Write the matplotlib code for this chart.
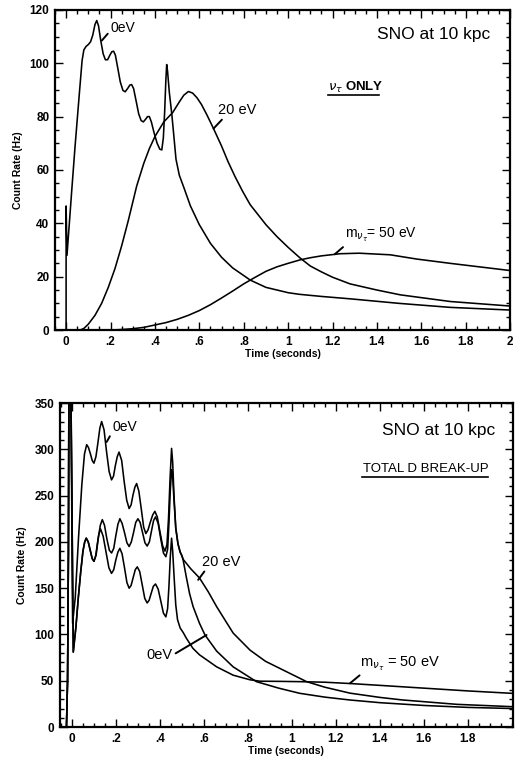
import matplotlib
matplotlib.use("Agg")
import matplotlib.pyplot as plt
from matplotlib.ticker import MultipleLocator, FixedLocator

plt.rcParams['font.family'] = ['Liberation Sans', 'DejaVu Sans']

## top panel: nu_tau only
t_top_0 = [0.0, 0.0, 0.004, 0.026, 0.0405, 0.06, 0.072, 0.08, 0.09, 0.1, 0.11, 0.12, 0.13, 0.138,
           0.146, 0.156, 0.167, 0.177, 0.187, 0.197, 0.206, 0.214, 0.222, 0.232, 0.244, 0.256,
           0.266, 0.277, 0.287, 0.295, 0.304, 0.315, 0.327, 0.338, 0.348, 0.358, 0.367, 0.375,
           0.384, 0.396, 0.41, 0.422, 0.431, 0.438, 0.444, 0.449, 0.453, 0.457, 0.465, 0.476,
           0.485, 0.495, 0.51, 0.53, 0.56, 0.6, 0.65, 0.7, 0.75, 0.83, 0.9, 1.0, 1.05, 1.15,
           1.28, 1.5, 1.73, 2.0]
v_top_0 = [0, 46.5, 28, 53, 69, 89, 101, 105, 106.3, 107, 108, 110.5, 114.5, 116,
           114, 108.5, 103.5, 101.3, 101.3, 103, 104.3, 104.5, 103, 98.5, 93, 89.8,
           89.3, 90.5, 91.8, 92, 90.5, 86, 81, 78.5, 78, 79, 80, 80,
           78, 74, 70, 67.8, 67.5, 72, 82, 93, 99.5, 97, 89, 81,
           73, 64, 58, 53.5, 46.5, 39.5, 32.5, 27.3, 23.3, 18.7, 16, 14, 13.4, 12.6,
           11.7, 10, 8.5, 7.5]

t_top_20 = [0.063, 0.08, 0.1, 0.13, 0.16, 0.19, 0.22, 0.25, 0.28, 0.318, 0.35, 0.375, 0.4, 0.44,
            0.48, 0.51, 0.53, 0.551, 0.57, 0.59, 0.61, 0.635, 0.664, 0.7, 0.73, 0.761, 0.795,
            0.829, 0.9, 0.95, 1.0, 1.054, 1.1, 1.15, 1.2, 1.279, 1.4, 1.505, 1.73, 2.0]
v_top_20 = [0, 0.6, 2.2, 5.5, 10, 16, 23, 31.5, 41, 54, 62.5, 68, 72.5, 78,
            81.5, 85.5, 88, 89.4, 88.8, 87, 84.5, 80.5, 75.5, 69, 63, 57.5, 52,
            47, 39.5, 35, 31, 27, 24, 21.8, 19.8, 17.3, 15, 13.2, 10.7, 9]

t_top_50 = [0.2, 0.25, 0.3, 0.35, 0.4, 0.45, 0.5, 0.55, 0.6, 0.65, 0.7, 0.75, 0.8, 0.85, 0.9,
            0.95, 1.0, 1.054, 1.1, 1.15, 1.234, 1.32, 1.46, 1.58, 1.73, 1.85, 2.0]
v_top_50 = [0, 0.2, 0.5, 1.0, 1.9, 2.8, 4, 5.5, 7.3, 9.5, 12, 14.6, 17.3, 19.7, 22,
            23.7, 25, 26.3, 27.1, 27.8, 28.6, 28.8, 28.2, 26.6, 25, 23.8, 22.3]

## bottom panel: total D break-up
t_bot_0 = [-0.025, -0.02, -0.016, -0.0135, -0.006, 0.003, 0.015, 0.03, 0.045, 0.057, 0.067,
           0.075, 0.084, 0.092, 0.1, 0.109, 0.118, 0.127, 0.135, 0.146, 0.157, 0.169, 0.18,
           0.189, 0.197, 0.206, 0.214, 0.226, 0.237, 0.249, 0.26, 0.269, 0.277, 0.286, 0.294,
           0.304, 0.315, 0.326, 0.336, 0.346, 0.356, 0.367, 0.377, 0.388, 0.4, 0.412, 0.423,
           0.432, 0.439, 0.446, 0.453, 0.458, 0.464, 0.472, 0.482, 0.492, 0.5, 0.506, 0.52,
           0.535, 0.551, 0.58, 0.605, 0.658, 0.733, 0.839, 0.94, 1.036, 1.15, 1.264, 1.4,
           1.6, 1.8, 2.0]
v_bot_0 = [0, 50, 190, 400, 400, 112, 140, 205, 262, 295, 305,
           302, 295, 288, 285, 292, 307, 323, 330, 321, 298, 276, 267,
           271, 282, 292, 297, 288, 266, 245, 236, 240, 250, 259, 263,
           255, 236, 216, 209, 213, 221, 229, 233, 227, 211, 196, 190,
           197, 225, 268, 301, 286, 250, 215, 198, 189, 185, 180, 162,
           144, 130, 112, 99.4, 82, 65, 49, 42, 36.4, 32.3, 29.2, 26.3,
           23.3, 21.2, 20]

t_bot_20 = [-0.025, -0.02, -0.016, -0.0135, -0.006, 0.006, 0.018, 0.029, 0.04, 0.05, 0.058,
            0.065, 0.074, 0.083, 0.092, 0.1, 0.11, 0.119, 0.129, 0.138, 0.148, 0.159, 0.17,
            0.18, 0.19, 0.199, 0.209, 0.218, 0.228, 0.239, 0.25, 0.26, 0.27, 0.28, 0.29, 0.3,
            0.31, 0.321, 0.332, 0.342, 0.352, 0.361, 0.371, 0.38, 0.392, 0.404, 0.416, 0.427,
            0.435, 0.441, 0.447, 0.453, 0.458, 0.464, 0.472, 0.482, 0.492, 0.5, 0.506, 0.54,
            0.58, 0.62, 0.658, 0.7, 0.733, 0.81, 0.88, 0.96, 1.067, 1.15, 1.264, 1.4, 1.5,
            1.75, 2.0]
v_bot_20 = [0, 50, 190, 400, 400, 81, 108, 140, 168, 190, 200,
            204, 200, 191, 182, 179, 186, 203, 218, 224, 218, 203, 191,
            188, 193, 206, 219, 225, 220, 210, 199, 195, 200, 210, 221, 225,
            221, 210, 199, 195.5, 200, 211, 223, 227, 220, 203, 188, 184,
            192, 220, 255, 278, 270, 245, 215, 198, 189, 185, 181, 171,
            161, 146, 130, 114, 101.5, 83, 71, 61.6, 49, 43, 36.6, 32, 29.3,
            24.5, 22]

t_bot_50 = [-0.025, -0.02, -0.016, -0.0135, -0.006, 0.006, 0.018, 0.029, 0.04, 0.05, 0.058,
            0.065, 0.074, 0.083, 0.092, 0.1, 0.108, 0.115, 0.122, 0.13, 0.142, 0.155, 0.168,
            0.18, 0.19, 0.199, 0.209, 0.218, 0.228, 0.239, 0.25, 0.26, 0.269, 0.279, 0.288,
            0.297, 0.308, 0.32, 0.331, 0.342, 0.351, 0.361, 0.37, 0.38, 0.392, 0.404, 0.416,
            0.427, 0.435, 0.441, 0.447, 0.453, 0.458, 0.465, 0.472, 0.48, 0.492, 0.506, 0.52,
            0.55, 0.58, 0.658, 0.733, 0.81, 0.855, 0.95, 1.036, 1.15, 1.264, 1.4, 1.6, 1.8, 2.0]
v_bot_50 = [0, 50, 190, 400, 400, 81, 108, 140, 168, 190, 200,
            204, 200, 191, 182, 179, 185, 197, 208, 214, 206, 189, 172,
            166, 170, 180, 189, 193, 187, 172, 156, 150, 153, 162, 170,
            173, 168, 153, 139, 134, 137, 145, 152, 154.5, 149, 136, 123,
            119, 128, 152, 183, 204, 190, 160, 132, 116, 107, 102, 96,
            85, 78, 65, 56, 51, 49.5, 49.3, 49, 48.4, 47, 45, 42, 39, 36.4]

top_xticks = [0, 0.2, 0.4, 0.6, 0.8, 1.0, 1.2, 1.4, 1.6, 1.8, 2.0]
top_xlabels = ['0', '.2', '.4', '.6', '.8', '1', '1.2', '1.4', '1.6', '1.8', '2']
bot_xticks = [0, 0.2, 0.4, 0.6, 0.8, 1.0, 1.2, 1.4, 1.6, 1.8]
bot_xlabels = ['0', '.2', '.4', '.6', '.8', '1', '1.2', '1.4', '1.6', '1.8']


def style(ax, xticks, xlabels, ymajor, yminor):
    ax.xaxis.set_major_locator(FixedLocator(xticks))
    ax.set_xticklabels(xlabels)
    ax.xaxis.set_minor_locator(MultipleLocator(0.05))
    ax.yaxis.set_major_locator(MultipleLocator(ymajor))
    ax.yaxis.set_minor_locator(MultipleLocator(yminor))
    ax.tick_params(which='both', direction='in', top=True, right=True, width=1.0,
                   labelsize=8.5, pad=4)
    ax.tick_params(which='major', length=5.5)
    ax.tick_params(which='minor', length=3)
    for lab in ax.get_xticklabels() + ax.get_yticklabels():
        lab.set_fontweight('bold')
    for s in ax.spines.values():
        s.set_linewidth(1.6)
    ax.set_xlabel('Time (seconds)', fontsize=7.5, fontweight='bold', labelpad=1)
    ax.set_ylabel('Count Rate (Hz)', fontsize=7.5, fontweight='bold', labelpad=5)


fig = plt.figure(figsize=(5.16, 7.57), dpi=100)

## ---- top ----
ax1 = fig.add_axes([0.1066, 0.564, 0.882, 0.423])
lw = 1.15
ax1.plot(t_top_0, v_top_0, color='black', lw=lw)
ax1.plot(t_top_20, v_top_20, color='black', lw=lw)
ax1.plot(t_top_50, v_top_50, color='black', lw=lw)
ax1.set_xlim(-0.05, 2.0)
ax1.set_ylim(0, 120)
style(ax1, top_xticks, top_xlabels, 20, 5)

arrow = dict(arrowstyle='-', lw=1.4, color='black', shrinkA=0, shrinkB=0)
ax1.annotate('0eV', xy=(0.161, 108.5), xytext=(0.2, 113.3), fontsize=10,
             ha='left', va='center', arrowprops=dict(arrow, relpos=(0, 0.3)))
ax1.annotate('20 eV', xy=(0.664, 75.5), xytext=(0.685, 82.5), fontsize=10.5,
             ha='left', va='center', arrowprops=dict(arrow, relpos=(0.2, 0.1)))
ax1.annotate(r'm$_{\nu_\tau}$= 50 eV', xy=(1.21, 28.4), xytext=(1.255, 35.5), fontsize=10,
             ha='left', va='center', arrowprops=dict(arrow, relpos=(0.05, 0.1)))
ax1.text(1.4, 110.6, 'SNO at 10 kpc', fontsize=12.5, ha='left', va='center')
ax1.text(1.18, 90.8, r'$\nu_\tau$ ONLY', fontsize=9.5, fontweight='bold', ha='left', va='center')
ax1.plot([0.6, 0.712], [0.733, 0.733], transform=ax1.transAxes, color='black', lw=1.2)

## ---- bottom ----
ax2 = fig.add_axes([0.116, 0.0396, 0.878, 0.428])
ax2.plot(t_bot_0, v_bot_0, color='black', lw=lw)
ax2.plot(t_bot_20, v_bot_20, color='black', lw=lw)
ax2.plot(t_bot_50, v_bot_50, color='black', lw=lw)
ax2.set_xlim(-0.055, 2.005)
ax2.set_ylim(0, 350)
style(ax2, bot_xticks, bot_xlabels, 50, 10)

ax2.annotate('0eV', xy=(0.158, 308), xytext=(0.185, 324), fontsize=10,
             ha='left', va='center', arrowprops=dict(arrow, relpos=(0, 0.2)))
ax2.annotate('20 eV', xy=(0.574, 159), xytext=(0.59, 178.6), fontsize=10.5,
             ha='left', va='center', arrowprops=dict(arrow, relpos=(0.15, 0.1)))
ax2.annotate('0eV', xy=(0.612, 99.4), xytext=(0.34, 77.8), fontsize=10.5,
             ha='left', va='center', arrowprops=dict(arrow, relpos=(1.0, 0.5)))
ax2.annotate(r'm$_{\nu_\tau}$ = 50 eV', xy=(1.264, 47.2), xytext=(1.31, 68.8), fontsize=10.5,
             ha='left', va='center', arrowprops=dict(arrow, relpos=(0.05, 0.05)))
ax2.text(1.41, 320.8, 'SNO at 10 kpc', fontsize=12.5, ha='left', va='center')
ax2.text(1.325, 278.7, 'TOTAL D BREAK-UP', fontsize=9.5, ha='left', va='center')
ax2.plot([0.668, 0.945], [0.772, 0.772], transform=ax2.transAxes, color='black', lw=1.2)

fig.savefig('out.png', dpi=100)
